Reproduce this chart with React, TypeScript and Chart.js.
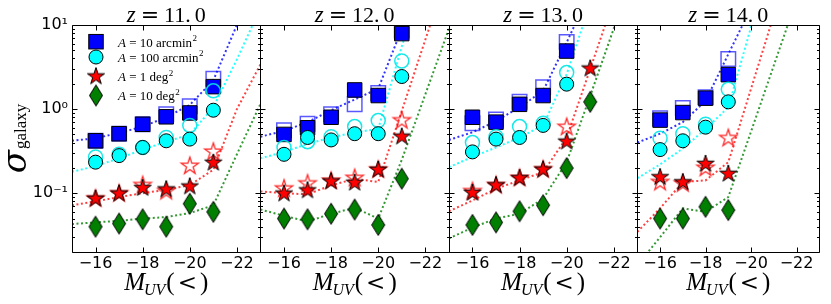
import React, { useEffect, useRef } from 'react';
import { Chart, registerables } from 'chart.js';

Chart.register(...registerables);

// ---------------- data ----------------
const M_MARKERS = [-16, -17, -18, -19, -20, -21];
const M_CURVE = [-15, -16, -17, -18, -19, -20, -21, -22, -23, -24];
const X_TICKS = [-16, -18, -20, -22];
const Y_MAJOR = [0.1, 1, 10];
const REDSHIFTS = ['11.0', '12.0', '13.0', '14.0'];
const LEGEND_AREAS = ['10 arcmin', '100 arcmin', '1 deg', '10 deg'];

// z = 11
const z11_blueFilled = [0.42, 0.51, 0.66, 0.81, 0.9, 1.85];
const z11_blueOpen = [0.42, 0.51, 0.66, 0.87, 1.08, 2.3];
const z11_cyanFilled = [0.234, 0.28, 0.35, 0.42, 0.44, 0.97];
const z11_cyanOpen = [0.27, 0.29, 0.35, 0.46, 0.64, 1.65];
const z11_redFilled = [0.086, 0.099, 0.115, 0.111, 0.12, 0.23];
const z11_redOpen = [0.086, 0.099, 0.124, 0.105, 0.21, 0.31];
const z11_green = [0.04, 0.0436, 0.049, 0.04, 0.075, 0.06];
const z11_blueCurve = [0.42, 0.45, 0.52, 0.62, 0.8, 1.12, 2.2, 10, 45, 200];
const z11_cyanCurve = [0.18, 0.21, 0.26, 0.33, 0.41, 0.5, 1.05, 3.9, 16, 60];
const z11_redCurve = [0.072, 0.08, 0.09, 0.1, 0.11, 0.125, 0.19, 1.0, 3.4, 12];
const z11_greenCurve = [0.043, 0.045, 0.047, 0.05, 0.052, 0.058, 0.072, 0.29, 1.15, 4.6];

// z = 12
const z12_blueFilled = [0.5, 0.6, 0.8, 1.69, 1.45, 7.9];
const z12_blueOpen = [0.56, 0.67, 0.87, 1.14, 1.55, 8.6];
const z12_cyanFilled = [0.29, 0.46, 0.43, 0.51, 0.51, 2.44];
const z12_cyanOpen = [0.35, 0.41, 0.47, 0.62, 0.73, 3.73];
const z12_redFilled = [0.099, 0.108, 0.138, 0.133, 0.19, 0.47];
const z12_redOpen = [0.113, 0.13, 0.14, 0.151, 0.19, 0.73];
const z12_green = [0.05, 0.049, 0.057, 0.064, 0.042, 0.149];
const z12_blueCurve = [0.47, 0.55, 0.7, 0.97, 1.3, 1.75, 9.0, 45, 200, 900];
const z12_cyanCurve = [0.26, 0.31, 0.385, 0.46, 0.53, 0.58, 5.6, 40, 250, 1500];
const z12_redCurve = [0.105, 0.1, 0.097, 0.124, 0.148, 0.136, 0.95, 6.7, 47, 300];
const z12_greenCurve = [0.064, 0.054, 0.046, 0.057, 0.067, 0.05, 0.25, 1.5, 9, 55];

// z = 13
const z13_blueFilled = [0.8, 0.7, 1.14, 1.45, 4.9, null];
const z13_blueOpen = [0.68, 0.75, 1.22, 1.82, 6.3, null];
const z13_cyanFilled = [0.31, 0.44, 0.46, 0.64, 1.98, null];
const z13_cyanOpen = [0.4, 0.47, 0.62, 0.68, 2.72, null];
const z13_redFilled = [0.101, 0.124, 0.151, 0.191, 0.41, 3.03];
const z13_redOpen = [0.105, 0.124, 0.151, 0.191, 0.61, null];
const z13_green = [0.042, 0.045, 0.061, 0.072, 0.199, 1.22];
const z13_blueCurve = [0.43, 0.53, 0.72, 1.05, 1.65, 6.2, 25, 100, 400, 1600];
const z13_cyanCurve = [0.204, 0.27, 0.35, 0.46, 0.64, 2.6, 18, 120, 800, 5000];
const z13_redCurve = [0.061, 0.082, 0.113, 0.142, 0.178, 0.46, 3.0, 20, 130, 800];
const z13_greenCurve = [0.029, 0.039, 0.05, 0.057, 0.086, 0.234, 1.44, 9.1, 55, 330];

// z = 14
const z14_blueFilled = [0.74, 0.91, 1.35, 2.57, null, null];
const z14_blueOpen = [0.78, 1.03, 1.38, 3.94, null, null];
const z14_cyanFilled = [0.33, 0.42, 0.61, 1.22, null, null];
const z14_cyanOpen = [0.45, 0.51, 0.66, 1.72, null, null];
const z14_redFilled = [0.155, 0.135, 0.223, 0.17, null, null];
const z14_redOpen = [0.135, 0.13, 0.199, 0.45, null, null];
const z14_green = [0.05, 0.05, 0.069, 0.063, null, null];
const z14_blueCurve = [0.4, 0.51, 0.7, 1.25, 4.5, 16, 60, 220, 800, 3000];
const z14_cyanCurve = [0.151, 0.22, 0.34, 0.58, 1.05, 9.5, 80, 700, 6000, 50000];
const z14_redCurve = [0.0347, 0.066, 0.136, 0.142, 0.234, 1.75, 13, 100, 700, 5000];
const z14_greenCurve = [0.014, 0.03, 0.066, 0.06, 0.09, 0.54, 3.3, 20, 120, 700];

const PANELS = [
  { z: REDSHIFTS[0], bF: z11_blueFilled, bO: z11_blueOpen, cF: z11_cyanFilled, cO: z11_cyanOpen, rF: z11_redFilled, rO: z11_redOpen, g: z11_green, bL: z11_blueCurve, cL: z11_cyanCurve, rL: z11_redCurve, gL: z11_greenCurve },
  { z: REDSHIFTS[1], bF: z12_blueFilled, bO: z12_blueOpen, cF: z12_cyanFilled, cO: z12_cyanOpen, rF: z12_redFilled, rO: z12_redOpen, g: z12_green, bL: z12_blueCurve, cL: z12_cyanCurve, rL: z12_redCurve, gL: z12_greenCurve },
  { z: REDSHIFTS[2], bF: z13_blueFilled, bO: z13_blueOpen, cF: z13_cyanFilled, cO: z13_cyanOpen, rF: z13_redFilled, rO: z13_redOpen, g: z13_green, bL: z13_blueCurve, cL: z13_cyanCurve, rL: z13_redCurve, gL: z13_greenCurve },
  { z: REDSHIFTS[3], bF: z14_blueFilled, bO: z14_blueOpen, cF: z14_cyanFilled, cO: z14_cyanOpen, rF: z14_redFilled, rO: z14_redOpen, g: z14_green, bL: z14_blueCurve, cL: z14_cyanCurve, rL: z14_redCurve, gL: z14_greenCurve },
];

// ---------------- layout / style ----------------
const CANVAS_W = 831;
const CANVAS_H = 304;
const PLOT_LEFT = 72;
const PANEL_W = 188.45;
const PLOT_TOP = 25;
const PLOT_BOTTOM = 252;
const X_AXIS_H = 30;
const Y_AXIS_W = 40;

const BLUE = '#0000ff';
const CYAN = '#00ffff';
const RED = '#ff0000';
const GREEN = '#007f00';

const SQUARE_R = 10.25; // chart.js rect: side = r*sqrt2
const CIRCLE_R = 7;
const STAR_R = 9;
const DIAM_HW = 6.5;
const DIAM_HH = 10.5;

const SUP: any = { '-': '\u207B', '0': '\u2070', '1': '\u00B9', '2': '\u00B2', '3': '\u00B3' };

function starPath(g: any, cx: number, cy: number, r: number) {
  const ri = r * 0.381966;
  g.beginPath();
  for (let k = 0; k < 10; k++) {
    const a = -Math.PI / 2 + (k * Math.PI) / 5;
    const rr = k % 2 === 0 ? r : ri;
    const px = cx + rr * Math.cos(a);
    const py = cy + rr * Math.sin(a);
    if (k === 0) g.moveTo(px, py);
    else g.lineTo(px, py);
  }
  g.closePath();
}

function diamondPath(g: any, cx: number, cy: number) {
  g.beginPath();
  g.moveTo(cx, cy - DIAM_HH);
  g.lineTo(cx + DIAM_HW, cy);
  g.lineTo(cx, cy + DIAM_HH);
  g.lineTo(cx - DIAM_HW, cy);
  g.closePath();
}

function markerCanvas(kind: string, fill: string | null, stroke: string, lw: number) {
  const c = document.createElement('canvas');
  c.width = 26;
  c.height = 26;
  const g = c.getContext('2d') as any;
  if (kind === 'star') starPath(g, 13, 13, STAR_R);
  else diamondPath(g, 13, 13);
  if (fill) {
    g.fillStyle = fill;
    g.fill();
  }
  g.lineJoin = 'miter';
  g.lineWidth = lw;
  g.strokeStyle = stroke;
  g.stroke();
  return c;
}

type Run = { t: string; f: string; dy?: number; gap?: number };

function runsWidth(ctx: any, runs: Run[]) {
  let w = 0;
  for (const r of runs) {
    ctx.font = r.f;
    w += (r.gap || 0) + ctx.measureText(r.t).width;
  }
  return w;
}

function drawRuns(ctx: any, runs: Run[], x: number, y: number) {
  let cx = x;
  for (const r of runs) {
    cx += r.gap || 0;
    ctx.font = r.f;
    ctx.fillText(r.t, cx, y + (r.dy || 0));
    cx += ctx.measureText(r.t).width;
  }
}

function pts(vals: (number | null)[]) {
  return M_MARKERS.map((m, i) => ({ x: m, y: vals[i] })).filter((p) => p.y != null);
}

function buildDatasets(p: any, mk: any) {
  const curve = (vals: number[], color: string) => ({
    data: M_CURVE.map((m, i) => ({ x: m, y: vals[i] })),
    showLine: true,
    borderColor: color,
    borderWidth: 2,
    borderDash: [2, 2.5],
    pointRadius: 0,
    pointHoverRadius: 0,
    fill: false,
    tension: 0,
    order: 20,
    clip: 0,
  });
  const marks = (vals: any[], style: any, radius: number, bg: string, border: string, bw: number, order: number) => ({
    data: pts(vals),
    showLine: false,
    pointStyle: style,
    pointRadius: radius,
    pointHoverRadius: radius,
    pointBackgroundColor: bg,
    pointBorderColor: border,
    pointBorderWidth: bw,
    order,
    clip: 0,
  });
  return [
    curve(p.bL, 'rgba(0,0,255,0.8)'),
    curve(p.cL, 'rgba(0,255,255,0.85)'),
    curve(p.rL, 'rgba(255,0,0,0.75)'),
    curve(p.gL, 'rgba(0,127,0,0.8)'),
    marks(p.bO, 'rect', SQUARE_R, 'rgba(255,255,255,0)', 'rgba(0,0,255,0.65)', 1.5, 9),
    marks(p.bF, 'rect', SQUARE_R, BLUE, '#000', 1, 8),
    marks(p.cO, 'circle', CIRCLE_R, 'rgba(255,255,255,0)', 'rgba(0,230,230,0.9)', 1.5, 7),
    marks(p.cF, 'circle', CIRCLE_R, CYAN, '#000', 1, 6),
    marks(p.rO, mk.starOpen, 9, '#fff', '#f00', 1, 5),
    marks(p.rF, mk.starFilled, 9, '#f00', '#000', 1, 4),
    marks(p.g, mk.diamond, 9, GREEN, '#000', 1, 3),
  ];
}

function decorPlugin(idx: number, z: string, mk: any) {
  return {
    id: 'decor' + idx,
    afterDraw(chart: any) {
      const ctx = chart.ctx;
      const ca = chart.chartArea;
      const xs = chart.scales.x;
      const ys = chart.scales.y;
      ctx.save();
      // frame + inward ticks
      ctx.strokeStyle = '#000';
      ctx.lineWidth = 1;
      const L = Math.round(ca.left) + 0.5;
      const R = Math.round(ca.right) + 0.5;
      const T = Math.round(ca.top) + 0.5;
      const B = Math.round(ca.bottom) + 0.5;
      ctx.beginPath();
      ctx.rect(L, T, R - L, B - T);
      for (const v of X_TICKS) {
        const px = Math.round(xs.getPixelForValue(v)) + 0.5;
        ctx.moveTo(px, B);
        ctx.lineTo(px, B - 5);
        ctx.moveTo(px, T);
        ctx.lineTo(px, T + 5);
      }
      for (let e = -2; e <= 1; e++) {
        for (let k = 1; k <= 9; k++) {
          const v = k * Math.pow(10, e);
          if (v < 0.0199 || v > 10.001) continue;
          const len = k === 1 ? 5 : 2.5;
          const py = Math.round(ys.getPixelForValue(v)) + 0.5;
          ctx.moveTo(L, py);
          ctx.lineTo(L + len, py);
          ctx.moveTo(R, py);
          ctx.lineTo(R - len, py);
        }
      }
      ctx.stroke();

      ctx.fillStyle = '#000';
      ctx.textAlign = 'left';
      ctx.textBaseline = 'alphabetic';
      const cx = (ca.left + ca.right) / 2;

      // panel title
      const title: Run[] = [
        { t: 'z', f: "italic 23px 'Liberation Serif'" },
        { t: '=', f: "22px 'DejaVu Serif'", gap: 5 },
        { t: z.slice(0, z.length - 1), f: "22px 'Liberation Serif'", gap: 5 },
        { t: z.slice(z.length - 1), f: "22px 'Liberation Serif'", gap: 4 },
      ];
      drawRuns(ctx, title, cx - runsWidth(ctx, title) / 2, 21.5);

      // x-axis label
      const xl: Run[] = [
        { t: 'M', f: "italic 25px 'Liberation Serif'" },
        { t: 'UV', f: "italic 16px 'Liberation Serif'", dy: 5, gap: -1 },
        { t: '(', f: "25px 'Liberation Serif'", gap: 1 },
        { t: '<', f: "23px 'DejaVu Serif'", gap: 3 },
        { t: ')', f: "25px 'Liberation Serif'", gap: 3 },
      ];
      drawRuns(ctx, xl, cx - runsWidth(ctx, xl) / 2, 289.5);

      if (idx === 0) {
        // y-axis label
        const yl: Run[] = [
          { t: '\u03C3', f: "italic 34px 'DejaVu Serif'" },
          { t: 'galaxy', f: "17px 'Liberation Serif'", gap: 1 },
        ];
        ctx.save();
        ctx.translate(26, 138.5);
        ctx.rotate(-Math.PI / 2);
        drawRuns(ctx, yl, -runsWidth(ctx, yl) / 2, 0);
        ctx.restore();

        // legend
        const lx = 96;
        const rows = [41.7, 57, 76.5, 95.5];
        ctx.fillStyle = BLUE;
        ctx.fillRect(lx - 7.25, rows[0] - 7.25, 14.5, 14.5);
        ctx.strokeStyle = '#000';
        ctx.lineWidth = 1;
        ctx.strokeRect(lx - 7.25, rows[0] - 7.25, 14.5, 14.5);
        ctx.beginPath();
        ctx.arc(lx, rows[1], CIRCLE_R, 0, Math.PI * 2);
        ctx.fillStyle = CYAN;
        ctx.fill();
        ctx.stroke();
        ctx.drawImage(mk.starFilled, lx - 13, rows[2] - 13);
        ctx.drawImage(mk.diamond, lx - 13, rows[3] - 13);
        ctx.fillStyle = '#000';
        LEGEND_AREAS.forEach((a, i) => {
          const runs: Run[] = [
            { t: 'A', f: "italic 13px 'Liberation Serif'" },
            { t: ' = ' + a, f: "13px 'Liberation Serif'" },
            { t: '2', f: "9px 'Liberation Serif'", dy: -5.5, gap: 0.5 },
          ];
          drawRuns(ctx, runs, 118, rows[i] + 4.8);
        });
      }
      ctx.restore();
    },
  };
}

function makeConfig(p: any, idx: number, mk: any) {
  const left = PLOT_LEFT + idx * PANEL_W;
  const right = PLOT_LEFT + (idx + 1) * PANEL_W;
  const yWidth = idx === 0 ? Y_AXIS_W : 0;
  return {
    type: 'scatter',
    data: { datasets: buildDatasets(p, mk) },
    options: {
      responsive: false,
      animation: false,
      events: [],
      layout: {
        padding: {
          left: left - yWidth,
          right: CANVAS_W - right,
          top: PLOT_TOP,
          bottom: CANVAS_H - PLOT_BOTTOM - X_AXIS_H,
        },
      },
      plugins: { legend: { display: false }, tooltip: { enabled: false }, title: { display: false } },
      scales: {
        x: {
          type: 'linear',
          min: -23,
          max: -15,
          reverse: true,
          afterBuildTicks: (s: any) => {
            s.ticks = X_TICKS.map((v) => ({ value: v }));
          },
          afterFit: (s: any) => {
            s.height = X_AXIS_H;
          },
          grid: { display: false, drawTicks: false },
          border: { display: false },
          ticks: {
            autoSkip: false,
            maxRotation: 0,
            minRotation: 0,
            padding: 2,
            color: '#000',
            font: { family: "'DejaVu Sans'", size: 16 },
            callback: (v: any) => '\u2212' + Math.abs(Number(v)),
          },
        },
        y: {
          type: 'logarithmic',
          min: 0.02,
          max: 10,
          display: idx === 0,
          afterBuildTicks: (s: any) => {
            s.ticks = Y_MAJOR.map((v) => ({ value: v, major: true }));
          },
          afterFit: (s: any) => {
            s.width = yWidth;
          },
          grid: { display: false, drawTicks: false },
          border: { display: false },
          ticks: {
            padding: 4,
            color: '#000',
            font: { family: "'DejaVu Sans'", size: 16 },
            callback: (v: any) => {
              const e = Math.round(Math.log10(Number(v)));
              return '10' + String(e).split('').map((c) => SUP[c] || c).join('');
            },
          },
        },
      },
    },
    plugins: [decorPlugin(idx, p.z, mk)],
  };
}

export default function App() {
  const r0 = useRef<HTMLCanvasElement>(null);
  const r1 = useRef<HTMLCanvasElement>(null);
  const r2 = useRef<HTMLCanvasElement>(null);
  const r3 = useRef<HTMLCanvasElement>(null);
  const refs = [r0, r1, r2, r3];

  useEffect(() => {
    const mk = {
      starFilled: markerCanvas('star', RED, '#000', 1),
      starOpen: markerCanvas('star', null, 'rgba(255,0,0,0.85)', 1.3),
      diamond: markerCanvas('diamond', GREEN, '#000', 1),
    };
    const charts = PANELS.map((p, i) => new Chart(refs[i].current as any, makeConfig(p, i, mk) as any));
    return () => charts.forEach((c) => c.destroy());
  }, []);

  return (
    <div style={{ position: 'absolute', left: 0, top: 0, width: CANVAS_W, height: CANVAS_H, background: '#fff' }}>
      {refs.map((r, i) => (
        <canvas key={i} ref={r} width={CANVAS_W} height={CANVAS_H} style={{ position: 'absolute', left: 0, top: 0 }} />
      ))}
    </div>
  );
}
